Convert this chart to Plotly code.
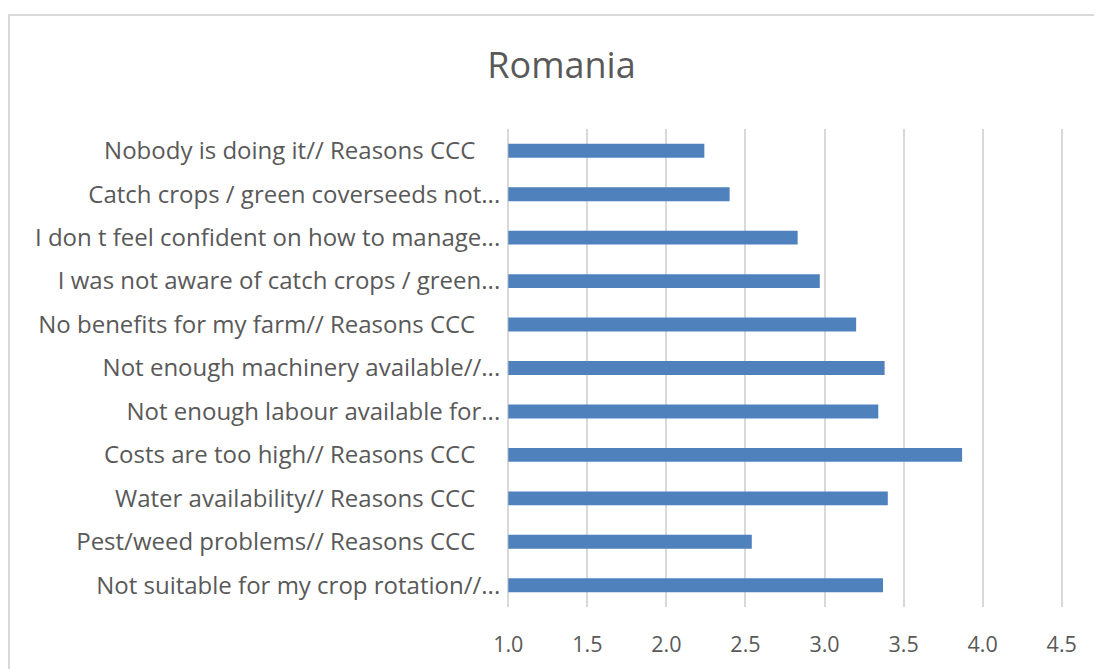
import plotly.graph_objects as go

categories = [
    "Nobody is doing it// Reasons CCC",
    "Catch crops / green coverseeds not...",
    "I don t feel confident on how to manage...",
    "I was not aware of catch crops / green...",
    "No benefits for my farm// Reasons CCC",
    "Not enough machinery available//...",
    "Not enough labour available for...",
    "Costs are too high// Reasons CCC",
    "Water availability// Reasons CCC",
    "Pest/weed problems// Reasons CCC",
    "Not suitable for my crop rotation//...",
]
values = [2.24, 2.40, 2.83, 2.97, 3.20, 3.38, 3.34, 3.87, 3.40, 2.54, 3.37]
axis_min = 1.0
axis_max = 4.5
title_text = "Romania"

# untruncated labels carry a trailing space in the source chart
labels = [c if c.endswith("...") else c + "\u00a0" * 4 for c in categories]

FONT = "'Open Sans', sans-serif"
GREY = "#595959"

# page body has an 8px offset; coordinates below are in figure pixels
OFF = 8
W, H = 1102 - OFF, 669 - OFF
L, T = 507 - OFF, 129 - OFF
R = W - (1063 - OFF)
B = H - (607 - OFF)
pw, ph = W - L - R, H - T - B
eps = 0.008


def px_to_paper_x(px):
    return (px - OFF - L) / pw


def px_to_paper_y(py):
    return (H - B - (py - OFF)) / ph


fig = go.Figure(go.Bar(
    x=[v - axis_min for v in values],
    y=labels,
    base=axis_min,
    orientation="h",
    marker=dict(color="#4F81BD", line=dict(width=0)),
    hovertemplate="%{y}: %{customdata:.2f}<extra></extra>",
    customdata=values,
))

fig.update_layout(
    width=W, height=H,
    margin=dict(l=L, r=R, t=T, b=B, pad=0),
    paper_bgcolor="white", plot_bgcolor="white",
    bargap=0.68,
    showlegend=False,
    font=dict(family=FONT, color=GREY),
    title=dict(text=title_text, x=(561.5 - OFF) / W, xanchor="center", xref="container",
               y=1 - (65 - OFF) / H, yanchor="middle", yref="container",
               font=dict(size=36, color=GREY, family=FONT)),
    xaxis=dict(range=[axis_min - eps, axis_max + eps], dtick=0.5, tick0=1.0, tickformat=".1f",
               showgrid=True, gridcolor="#d9d9d9", gridwidth=2,
               zeroline=False, showline=False,
               ticks="outside", ticklen=18, tickcolor="rgba(0,0,0,0)",
               tickfont=dict(size=21.5, color=GREY, family=FONT)),
    yaxis=dict(autorange="reversed", showgrid=False, zeroline=False, showline=False,
               ticks="outside", ticklen=1, tickcolor="rgba(0,0,0,0)",
               tickfont=dict(size=24, color=GREY, family=FONT)),
    shapes=[dict(type="rect", xref="paper", yref="paper",
                 x0=px_to_paper_x(9), x1=px_to_paper_x(1130),
                 y0=px_to_paper_y(700), y1=px_to_paper_y(15),
                 line=dict(color="#d9d9d9", width=2), fillcolor="rgba(0,0,0,0)",
                 layer="below")],
)

fig.write_html("out.html")
